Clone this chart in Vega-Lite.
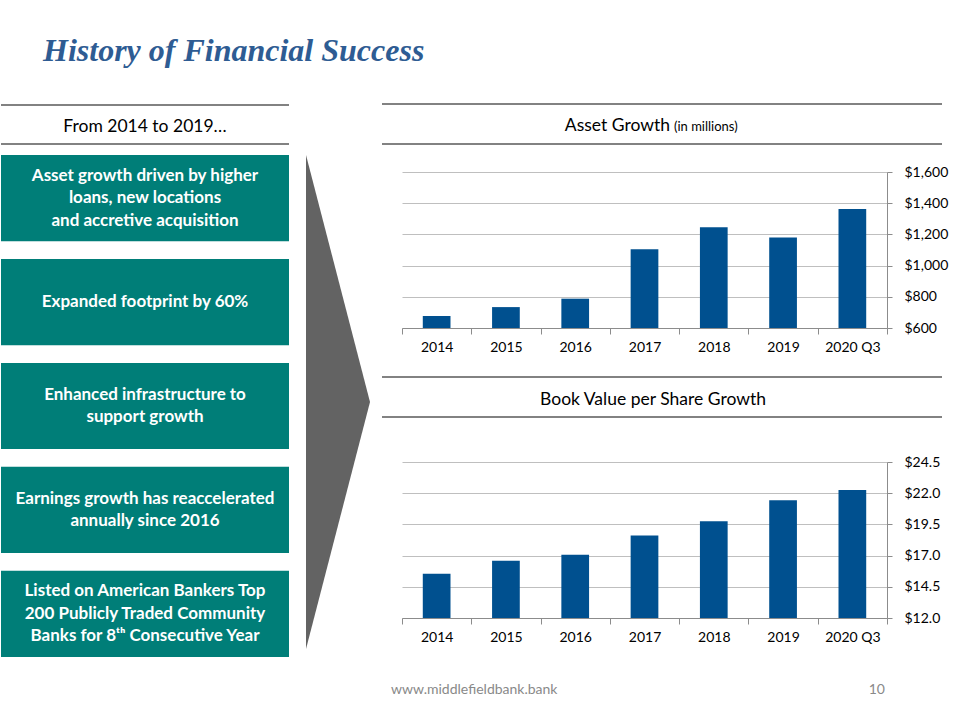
{
  "$schema": "https://vega.github.io/schema/vega-lite/v6.json",
  "background": "white",
  "padding": {"top": 35, "left": 0, "right": 0, "bottom": 0},
  "title": {
    "text": "History of Financial Success",
    "anchor": "start",
    "frame": "group",
    "dx": 42,
    "font": "Liberation Serif",
    "fontSize": 32,
    "fontWeight": "bold",
    "fontStyle": "italic",
    "color": "#2E5C93",
    "offset": 35
  },
  "config": {
    "view": {"stroke": null},
    "font": "Lato",
    "text": {"font": "Lato"}
  },
  "spacing": 0,
  "vconcat": [
    {
      "spacing": 0,
      "hconcat": [
        {
          "bounds": "flush",
          "spacing": 0,
          "vconcat": [
            {
              "width": 380,
              "height": 51,
              "layer": [
                {
                  "data": {"values": [{"edge": 1}, {"edge": 40}]},
                  "mark": {"type": "rule", "color": "#595959", "strokeWidth": 1.5},
                  "encoding": {
                    "x": {"datum": 0, "type": "quantitative", "scale": {"domain": [0, 380], "nice": false, "zero": false}, "axis": null},
                    "x2": {"datum": 288},
                    "y": {"field": "edge", "type": "quantitative", "scale": {"domain": [0, 51], "nice": false, "reverse": true}, "axis": null}
                  }
                },
                {
                  "data": {"values": [{"label": "From 2014 to 2019…"}]},
                  "mark": {"type": "text", "fontSize": 17.5, "color": "#000000", "baseline": "alphabetic", "align": "center"},
                  "encoding": {
                    "x": {"datum": 144, "type": "quantitative"},
                    "y": {"datum": 28, "type": "quantitative"},
                    "text": {"field": "label"}
                  }
                }
              ]
            },
            {
              "width": 380,
              "height": 502,
              "resolve": {"scale": {"y": "independent"}},
              "layer": [
                {
                  "data": {"name": "boxes"},
                  "encoding": {
                    "y": {"field": "text", "type": "nominal", "sort": null, "scale": {"paddingInner": 0.171, "paddingOuter": 0}, "axis": null},
                    "x": {"datum": 144, "type": "quantitative", "scale": {"domain": [0, 380], "nice": false, "zero": false}, "axis": null}
                  },
                  "layer": [
                    {
                      "mark": {"type": "rect", "color": "#007E78"},
                      "encoding": {
                        "x": {"datum": 0, "type": "quantitative"},
                        "x2": {"datum": 288}
                      }
                    },
                    {
                      "transform": [{"filter": "length(split(datum.text, '\\n')) == 1"}],
                      "mark": {"type": "text", "lineBreak": "\n", "fontSize": 17, "fontWeight": "bold", "color": "#FFFFFF", "lineHeight": 22.5, "baseline": "middle", "align": "center"},
                      "encoding": {"text": {"field": "text"}}
                    },
                    {
                      "transform": [{"filter": "length(split(datum.text, '\\n')) == 2"}],
                      "mark": {"type": "text", "lineBreak": "\n", "fontSize": 17, "fontWeight": "bold", "color": "#FFFFFF", "lineHeight": 22.5, "baseline": "middle", "align": "center", "dy": -11.25},
                      "encoding": {"text": {"field": "text"}}
                    },
                    {
                      "transform": [{"filter": "length(split(datum.text, '\\n')) == 3"}],
                      "mark": {"type": "text", "lineBreak": "\n", "fontSize": 17, "fontWeight": "bold", "color": "#FFFFFF", "lineHeight": 22.5, "baseline": "middle", "align": "center", "dy": -22.5},
                      "encoding": {"text": {"field": "text"}}
                    }
                  ]
                },
                {
                  "data": {"values": [
                    {"x": 305, "top": 0, "bottom": 494},
                    {"x": 369, "top": 247, "bottom": 247}
                  ]},
                  "mark": {"type": "area", "color": "#636363", "orient": "vertical"},
                  "encoding": {
                    "x": {"field": "x", "type": "quantitative"},
                    "y": {"field": "top", "type": "quantitative", "scale": {"domain": [0, 502], "nice": false, "reverse": true}, "axis": null},
                    "y2": {"field": "bottom"}
                  }
                }
              ]
            }
          ]
        },
        {
          "bounds": "flush",
          "spacing": 0,
          "vconcat": [
            {
              "width": 485,
              "height": 68,
              "layer": [
                {
                  "data": {"values": [{"edge": 0}, {"edge": 40}]},
                  "mark": {"type": "rule", "color": "#595959", "strokeWidth": 1.5},
                  "encoding": {
                    "x": {"datum": -20, "type": "quantitative", "scale": {"domain": [0, 485], "nice": false, "zero": false}, "axis": null},
                    "x2": {"datum": 540},
                    "y": {"field": "edge", "type": "quantitative", "scale": {"domain": [0, 68], "nice": false, "reverse": true}, "axis": null}
                  }
                },
                {
                  "data": {"values": [{"label": "Asset Growth"}]},
                  "mark": {"type": "text", "fontSize": 17.5, "color": "#000000", "baseline": "alphabetic", "align": "right"},
                  "encoding": {
                    "x": {"datum": 268, "type": "quantitative"},
                    "y": {"datum": 27, "type": "quantitative"},
                    "text": {"field": "label"}
                  }
                },
                {
                  "data": {"values": [{"label": "(in millions)"}]},
                  "mark": {"type": "text", "fontSize": 13, "color": "#000000", "baseline": "alphabetic", "align": "left"},
                  "encoding": {
                    "x": {"datum": 272, "type": "quantitative"},
                    "y": {"datum": 27, "type": "quantitative"},
                    "text": {"field": "label"}
                  }
                }
              ]
            },
            {
              "width": 485,
              "height": 156,
              "data": {"values": [
                {"period": "2014", "assets": 677},
                {"period": "2015", "assets": 734},
                {"period": "2016", "assets": 788},
                {"period": "2017", "assets": 1105},
                {"period": "2018", "assets": 1246},
                {"period": "2019", "assets": 1180},
                {"period": "2020 Q3", "assets": 1363}
              ]},
              "mark": {"type": "bar", "color": "#00508F", "width": {"band": 0.4}},
              "encoding": {
                "x": {
                  "field": "period", "type": "ordinal", "sort": null,
                  "scale": {"paddingInner": 0, "paddingOuter": 0},
                  "axis": {"title": null, "labelAngle": 0, "tickBand": "extent", "domainColor": "#8C8C8C", "tickColor": "#8C8C8C", "tickSize": 6, "labelPadding": 6, "labelFontSize": 14, "labelColor": "#000000", "labelFont": "Lato", "grid": false}
                },
                "y": {
                  "field": "assets", "type": "quantitative",
                  "scale": {"domain": [600, 1600], "nice": false, "zero": false},
                  "axis": {"orient": "right", "title": null, "values": [600, 800, 1000, 1200, 1400, 1600], "format": "$,.0f", "grid": true, "gridColor": "#BFBFBF", "domainColor": "#8C8C8C", "tickColor": "#8C8C8C", "tickSize": 5, "labelPadding": 12, "labelFontSize": 14, "labelColor": "#000000", "labelFont": "Lato"}
                },
                "y2": {"datum": 600}
              }
            },
            {
              "width": 485,
              "height": 134,
              "layer": [
                {
                  "data": {"values": [{"edge": 49}, {"edge": 89}]},
                  "mark": {"type": "rule", "color": "#595959", "strokeWidth": 1.5},
                  "encoding": {
                    "x": {"datum": -20, "type": "quantitative", "scale": {"domain": [0, 485], "nice": false, "zero": false}, "axis": null},
                    "x2": {"datum": 540},
                    "y": {"field": "edge", "type": "quantitative", "scale": {"domain": [0, 134], "nice": false, "reverse": true}, "axis": null}
                  }
                },
                {
                  "data": {"values": [{"label": "Book Value per Share Growth"}]},
                  "mark": {"type": "text", "fontSize": 17.5, "color": "#000000", "baseline": "alphabetic", "align": "center"},
                  "encoding": {
                    "x": {"datum": 251, "type": "quantitative"},
                    "y": {"datum": 77, "type": "quantitative"},
                    "text": {"field": "label"}
                  }
                }
              ]
            },
            {
              "width": 485,
              "height": 156,
              "data": {"values": [
                {"period": "2014", "bvps": 15.54},
                {"period": "2015", "bvps": 16.58},
                {"period": "2016", "bvps": 17.06},
                {"period": "2017", "bvps": 18.61},
                {"period": "2018", "bvps": 19.76},
                {"period": "2019", "bvps": 21.43},
                {"period": "2020 Q3", "bvps": 22.26}
              ]},
              "mark": {"type": "bar", "color": "#00508F", "width": {"band": 0.4}},
              "encoding": {
                "x": {
                  "field": "period", "type": "ordinal", "sort": null,
                  "scale": {"paddingInner": 0, "paddingOuter": 0},
                  "axis": {"title": null, "labelAngle": 0, "tickBand": "extent", "domainColor": "#8C8C8C", "tickColor": "#8C8C8C", "tickSize": 6, "labelPadding": 6, "labelFontSize": 14, "labelColor": "#000000", "labelFont": "Lato", "grid": false}
                },
                "y": {
                  "field": "bvps", "type": "quantitative",
                  "scale": {"domain": [12, 24.5], "nice": false, "zero": false},
                  "axis": {"orient": "right", "title": null, "values": [12, 14.5, 17, 19.5, 22, 24.5], "format": "$.1f", "grid": true, "gridColor": "#BFBFBF", "domainColor": "#8C8C8C", "tickColor": "#8C8C8C", "tickSize": 5, "labelPadding": 12, "labelFontSize": 14, "labelColor": "#000000", "labelFont": "Lato"}
                },
                "y2": {"datum": 12}
              }
            }
          ]
        }
      ]
    },
    {
      "width": 960,
      "height": 65,
      "data": {"values": [
        {"label": "www.middlefieldbank.bank", "role": "url"},
        {"label": "10", "role": "page"}
      ]},
      "layer": [
        {
          "transform": [{"filter": "datum.role === 'url'"}],
          "mark": {"type": "text", "fontSize": 14, "color": "#898989", "align": "left", "baseline": "middle"},
          "encoding": {
            "x": {"datum": 390, "type": "quantitative", "scale": {"domain": [0, 960], "nice": false, "zero": false}, "axis": null},
            "y": {"datum": 0.5, "type": "quantitative", "scale": {"domain": [0, 1], "nice": false}, "axis": null},
            "text": {"field": "label"}
          }
        },
        {
          "transform": [{"filter": "datum.role === 'page'"}],
          "mark": {"type": "text", "fontSize": 14, "color": "#898989", "align": "right", "baseline": "middle"},
          "encoding": {
            "x": {"datum": 884, "type": "quantitative"},
            "y": {"datum": 0.5, "type": "quantitative"},
            "text": {"field": "label"}
          }
        }
      ]
    }
  ],
  "datasets": {
    "boxes": [
      {"text": "Asset growth driven by higher\nloans, new locations\nand accretive acquisition"},
      {"text": "Expanded footprint by 60%"},
      {"text": "Enhanced infrastructure to\nsupport growth"},
      {"text": "Earnings growth has reaccelerated\nannually since 2016"},
      {"text": "Listed on American Bankers Top\n200 Publicly Traded Community\nBanks for 8ᵗʰ Consecutive Year"}
    ]
  }
}
